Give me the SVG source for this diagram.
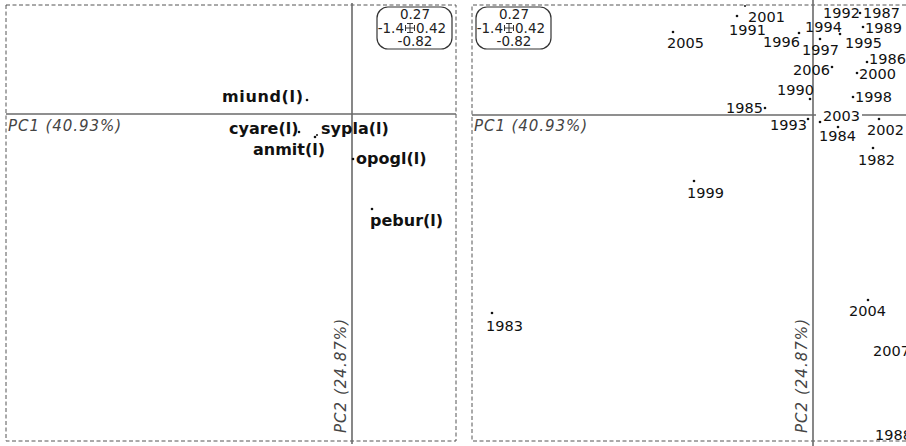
<svg xmlns="http://www.w3.org/2000/svg" width="906" height="446" viewBox="0 0 906 446">
<style>
.frame{fill:none;stroke:#555;stroke-width:1;stroke-dasharray:4 2.5}
.axis{stroke:#6a6a6a;stroke-width:1.6;fill:none}
.lbl{font-family:"DejaVu Sans","Liberation Sans",sans-serif;font-weight:bold;font-size:16px;fill:#111}
.yr{font-family:"DejaVu Sans","Liberation Sans",sans-serif;font-size:14.5px;fill:#111}
.pc{font-family:"DejaVu Sans","Liberation Sans",sans-serif;font-style:italic;font-size:15px;fill:#444}
.leg{font-family:"DejaVu Sans","Liberation Sans",sans-serif;font-size:13.5px;fill:#222}
.box{fill:none;stroke:#333;stroke-width:1.2}
.pt{fill:#111}
.gl{stroke:#333;stroke-width:1;fill:none}
</style>
<defs>
<g id="glyph">
<path class="gl" d="M-4.5,0H4.5M-4.5,-3V3M4.5,-3V3M0,-4.5V4.5M-3,-4.5H3M-3,4.5H3"/>
</g>
<g id="legend">
<rect class="box" x="0" y="0" width="75" height="42" rx="11"/>
<text class="leg" x="38" y="12" text-anchor="middle">0.27</text>
<text class="leg" x="27" y="26" text-anchor="end">-1.4</text>
<use href="#glyph" x="33" y="21"/>
<text class="leg" x="39" y="26">0.42</text>
<text class="leg" x="38" y="39" text-anchor="middle">-0.82</text>
</g>
</defs>
<rect width="906" height="446" fill="#fff"/>

<g id="left-panel">
<rect class="frame" x="6" y="5" width="450" height="436"/>
<line class="axis" x1="6" y1="114" x2="456" y2="114"/>
<line class="axis" x1="352" y1="3" x2="352" y2="444"/>
<use href="#legend" x="377" y="7"/>
<text class="pc" x="8" y="131" textLength="113">PC1 (40.93%)</text>
<text class="pc" transform="translate(346,433) rotate(-90)" textLength="114">PC2 (24.87%)</text>
</g>

<g id="right-panel">
<path class="frame" d="M906,5H472V441H906"/>
<line class="axis" x1="472" y1="115" x2="906" y2="115"/>
<line class="axis" x1="813" y1="0" x2="813" y2="446"/>
<use href="#legend" x="476" y="7"/>
<text class="pc" x="474" y="131" textLength="113">PC1 (40.93%)</text>
<text class="pc" transform="translate(807,433) rotate(-90)" textLength="114">PC2 (24.87%)</text>
</g>

<g id="species">
<g id="miund"><circle class="pt" cx="307" cy="100" r="1.3"/><text class="lbl" x="222" y="102" textLength="81">miund(l)</text></g>
<g id="cyare"><circle class="pt" cx="299" cy="132" r="1.3"/><text class="lbl" x="229" y="134">cyare(l)</text></g>
<g id="sypla"><circle class="pt" cx="315" cy="137" r="1.3"/><circle class="pt" cx="317" cy="135" r="1"/><text class="lbl" x="321" y="134">sypla(l)</text></g>
<g id="anmit"><text class="lbl" x="253" y="155">anmit(l)</text></g>
<g id="opogl"><circle class="pt" cx="353" cy="159" r="1.3"/><text class="lbl" x="356" y="164">opogl(l)</text></g>
<g id="pebur"><circle class="pt" cx="372" cy="209" r="1.3"/><text class="lbl" x="370" y="226">pebur(l)</text></g>
</g>

<g id="years">
<g id="y2001"><circle class="pt" cx="737" cy="16" r="1.3"/><circle class="pt" cx="745" cy="6" r="1"/><text class="yr" x="748" y="22">2001</text></g>
<g id="y1991"><text class="yr" x="729" y="35">1991</text></g>
<g id="y1996"><circle class="pt" cx="799" cy="33" r="1.3"/><text class="yr" x="763" y="47">1996</text></g>
<g id="y2005"><circle class="pt" cx="673" cy="32" r="1.3"/><text class="yr" x="667" y="48">2005</text></g>
<g id="y1994"><text class="yr" x="805" y="32">1994</text></g>
<g id="y1997"><circle class="pt" cx="820" cy="39" r="1.3"/><text class="yr" x="802" y="55">1997</text></g>
<g id="y1992"><circle class="pt" cx="860" cy="13" r="1.3"/><text class="yr" x="823" y="18">1992</text></g>
<g id="y1987"><text class="yr" x="863" y="18">1987</text></g>
<g id="y1989"><circle class="pt" cx="863" cy="27" r="1.3"/><text class="yr" x="865" y="33">1989</text></g>
<g id="y1995"><circle class="pt" cx="840" cy="34" r="1.3"/><text class="yr" x="845" y="48">1995</text></g>
<g id="y1986"><circle class="pt" cx="867" cy="62" r="1.3"/><text class="yr" x="869" y="64">1986</text></g>
<g id="y2000"><circle class="pt" cx="857" cy="73" r="1.3"/><text class="yr" x="859" y="79">2000</text></g>
<g id="y2006"><circle class="pt" cx="832" cy="67" r="1.3"/><text class="yr" x="793" y="75">2006</text></g>
<g id="y1990"><circle class="pt" cx="810" cy="99" r="1.3"/><text class="yr" x="777" y="95">1990</text></g>
<g id="y1998"><circle class="pt" cx="853" cy="97" r="1.3"/><text class="yr" x="855" y="102">1998</text></g>
<g id="y1985"><circle class="pt" cx="765" cy="108" r="1.3"/><text class="yr" x="726" y="113">1985</text></g>
<g id="y1993"><circle class="pt" cx="808" cy="119" r="1.3"/><text class="yr" x="770" y="130">1993</text></g>
<g id="y2003"><rect x="816" y="109" width="46" height="13" fill="#fff"/><circle class="pt" cx="820" cy="122" r="1.3"/><text class="yr" x="823" y="121">2003</text></g>
<g id="y1984"><circle class="pt" cx="838" cy="127" r="1.3"/><text class="yr" x="819" y="141">1984</text></g>
<g id="y2002"><circle class="pt" cx="879" cy="119" r="1.3"/><text class="yr" x="867" y="135">2002</text></g>
<g id="y1982"><circle class="pt" cx="873" cy="148" r="1.3"/><text class="yr" x="858" y="165">1982</text></g>
<g id="y1999"><circle class="pt" cx="694" cy="181" r="1.3"/><text class="yr" x="687" y="198">1999</text></g>
<g id="y1983"><circle class="pt" cx="492" cy="313" r="1.3"/><text class="yr" x="486" y="331">1983</text></g>
<g id="y2004"><circle class="pt" cx="868" cy="300" r="1.3"/><text class="yr" x="849" y="316">2004</text></g>
<g id="y2007"><text class="yr" x="873" y="356">2007</text></g>
<g id="y1988"><text class="yr" x="875" y="440">1988</text></g>
</g>
</svg>
